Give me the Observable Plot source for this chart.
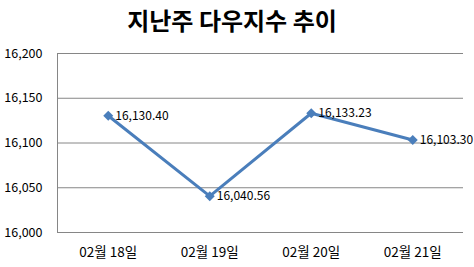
<!DOCTYPE html>
<html><head><meta charset="utf-8">
<script src="https://cdn.jsdelivr.net/npm/d3@7"></script>
<script src="https://cdn.jsdelivr.net/npm/@observablehq/plot@0.6"></script>
<style>
body{margin:0;background:#fff;}
#title{height:42px;line-height:40px;text-align:center;padding-right:10px;font-family:"Noto Sans CJK KR",sans-serif;font-weight:bold;font-size:24px;color:#000;}
svg{overflow:visible;}
</style></head>
<body>
<div id="title">지난주 다우지수 추이</div>
<div id="chart"></div>
<script>
const dates = ["02월 18일", "02월 19일", "02월 20일", "02월 21일"];
const values = [16130.40, 16040.56, 16133.23, 16103.30];
const yTicks = [16000, 16050, 16100, 16150, 16200];

const data = dates.map((d, i) => ({i, date: d, value: values[i]}));
const fmtTick = d3.format(",");
const fmtLabel = d3.format(",.2f");

const chart = Plot.plot({
  width: 474, height: 225,
  marginTop: 11, marginBottom: 35, marginLeft: 57, marginRight: 11,
  style: {fontFamily: "'Noto Sans CJK KR', sans-serif", fontSize: "12px", color: "#000", background: "#fff", overflow: "visible"},
  x: {type: "linear", domain: [-0.5, dates.length - 0.5], ticks: dates.map((d, i) => i), tickFormat: i => dates[i], label: null},
  y: {domain: [yTicks[0], yTicks[yTicks.length - 1]], ticks: yTicks, tickFormat: fmtTick, label: null},
  marks: [
    Plot.gridY(yTicks, {stroke: "#868686", strokeOpacity: 1, strokeWidth: 1}),
    Plot.ruleX([-0.5], {stroke: "#868686", strokeWidth: 1}),
    Plot.axisY({ticks: yTicks, tickFormat: fmtTick, tickSize: 0, tickPadding: 15, fontSize: "12.5px"}),
    Plot.axisX({ticks: dates.map((d, i) => i), tickFormat: i => dates[i], tickSize: 0, tickPadding: 15, fontSize: "13.5px"}),
    Plot.line(data, {x: "i", y: "value", stroke: "#4a7ebb", strokeWidth: 3}),
    Plot.dot(data, {x: "i", y: "value", symbol: "diamond2", r: 4.5, fill: "#4a7ebb", stroke: "none"}),
    Plot.text(data, {x: "i", y: "value", text: d => fmtLabel(d.value), dx: 7, textAnchor: "start", fill: "#000", fontSize: "12px"})
  ]
});
document.getElementById("chart").appendChild(chart);
</script>
</body></html>
